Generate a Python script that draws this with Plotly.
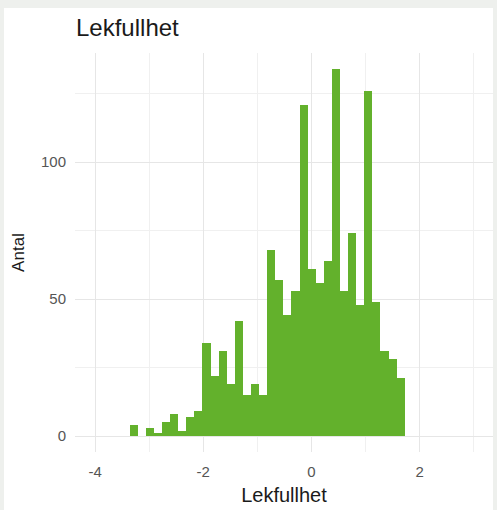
import plotly.graph_objects as go

# Histogram data (34 equal-width bins)
bin_start = -3.36
bin_width = 0.1495
counts = [4, 0, 3, 1, 5, 8, 2, 7, 9, 34, 22, 31, 19, 42, 15, 19, 15, 68, 57, 44,
          53, 121, 61, 56, 64, 134, 53, 74, 48, 126, 49, 31, 28, 21]

x_tickvals = [-4, -2, 0, 2]
x_ticktext = ["-4", "-2", "0", "2"]
y_tickvals = [0, 50, 100]
y_ticktext = ["0", "50", "100"]

title_text = "Lekfullhet"
x_title = "Lekfullhet"
y_title = "Antal"

centers = [bin_start + bin_width * (i + 0.5) for i in range(len(counts))]

W, H = 497, 510
L, R, T, B = 75, 4, 53, 58
pw = W - L - R
ph = H - T - B

fig = go.Figure()
fig.add_trace(go.Bar(
    x=centers, y=counts, width=bin_width,
    marker=dict(color="#63B12C", line=dict(width=0)),
    hoverinfo="x+y",
))

# white panel over grey page background
fig.add_shape(type="rect", xref="paper", yref="paper",
              x0=(4 - L) / pw, x1=(493 - L) / pw,
              y0=(T + ph - 520) / ph, y1=(T + ph - 8) / ph,
              fillcolor="white", line=dict(width=0), layer="below")

grid_major = "#e6e6e6"
grid_minor = "#f0f0f0"
font_family = "Liberation Sans, Arial, Helvetica, sans-serif"

fig.update_layout(
    width=W, height=H,
    margin=dict(l=L, r=R, t=T, b=B, pad=0),
    paper_bgcolor="#eef0ed",
    plot_bgcolor="rgba(0,0,0,0)",
    bargap=0,
    showlegend=False,
    font=dict(family=font_family),
    title=dict(text=title_text, x=76 / W, xanchor="left", xref="container",
               yref="container", y=1 - 28 / H, yanchor="middle",
               font=dict(size=24, color="#1a1a1a", family=font_family)),
    xaxis=dict(
        range=[-4.371, 3.355],
        tickvals=x_tickvals, ticktext=x_ticktext,
        showgrid=True, gridcolor=grid_major, gridwidth=1.2,
        minor=dict(dtick=1, tick0=1, showgrid=True, gridcolor=grid_minor, gridwidth=1),
        zeroline=False, showline=False, ticks="",
        tickfont=dict(size=15, color="#555555"),
        ticklabelstandoff=9,
        title=dict(text=x_title, font=dict(size=20, color="#1a1a1a"), standoff=8),
        fixedrange=True,
    ),
    yaxis=dict(
        range=[-5.84, 139.8],
        tickvals=y_tickvals, ticktext=y_ticktext,
        showgrid=True, gridcolor=grid_major, gridwidth=1.2,
        minor=dict(dtick=25, tick0=25, showgrid=True, gridcolor=grid_minor, gridwidth=1),
        zeroline=False, showline=False, ticks="",
        tickfont=dict(size=15, color="#555555"),
        ticklabelstandoff=8,
        title=dict(text=y_title, font=dict(size=17, color="#1a1a1a"), standoff=12),
        fixedrange=True,
    ),
)

fig.write_html(
    "out.html",
    config={"displayModeBar": False},
    post_script="document.body.style.margin='0';document.body.style.background='#eef0ed';",
)
